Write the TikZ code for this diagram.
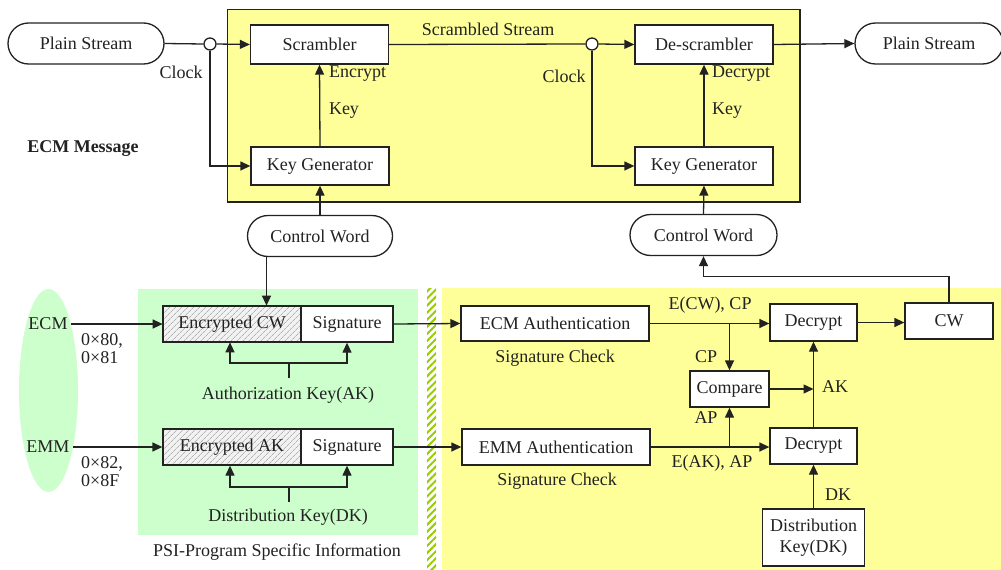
\documentclass[tikz,border=0pt]{standalone}
\usepackage{fontspec}
\setmainfont{Liberation Serif}
\usetikzlibrary{arrows.meta,shapes.misc,patterns.meta}
\definecolor{paleyellow}{HTML}{FFFF99}
\definecolor{palegreen}{HTML}{CCFFCC}
\definecolor{stripgreen}{HTML}{99CC00}
\definecolor{ink}{HTML}{222222}
\begin{document}
\begin{tikzpicture}[x=1pt,y=-1pt,
  font=\fontsize{18}{20}\selectfont,
  every node/.style={text=ink},
  line/.style={draw=ink,line width=1.3pt},
  arr/.style={line,-{Triangle[length=10pt,width=9pt]}},
  blk/.style={line,fill=white,inner sep=0pt,minimum width=#1},
  blk/.default=138,
  term/.style={line,fill=white,rounded rectangle,inner sep=0pt,minimum width=#1,minimum height=41},
  junction/.style={line,fill=white,circle,inner sep=0pt,minimum size=12},
  hatched/.style={preaction={fill=gray!10},pattern={Lines[angle=45,distance=4pt,line width=0.7pt]},pattern color=gray!60},
  lbl/.style={inner sep=1pt}]
\useasboundingbox (0,0) rectangle (1001,570);

% ---------- background regions ----------
\fill[paleyellow] (227.5,9.5) rectangle (800,202);
\draw[line] (227.5,9.5) rectangle (800,202);
\fill[palegreen] (138,289) rectangle (418,535);
\fill[white] (427,288) rectangle (436,575);
\path[pattern={Lines[angle=45,distance=5pt,line width=2pt]},pattern color=stripgreen] (427,288) rectangle (436,575);
\fill[paleyellow] (442,288) rectangle (1005,575);
\fill[palegreen] (48.5,390.5) ellipse [x radius=29.5,y radius=101.5];

% ---------- scrambling path ----------
\node[term=156] (ps1) at (86,43.5) {Plain Stream};
\node[junction] (j1) at (210,44) {};
\node[blk, minimum height=39] (scr) at (319.5,44.5) {Scrambler};
\node[blk, minimum height=38] (kg1) at (320,166) {Key Generator};
\node[term=145] (cw1) at (320,236) {Control Word};

\node[junction] (j2) at (592,44) {};
\node[blk, minimum height=39] (dscr) at (704,44.5) {De-scrambler};
\node[blk, minimum height=38] (kg2) at (704,166) {Key Generator};
\node[term=147] (cw2) at (703.5,235) {Control Word};
\node[term=148] (ps2) at (929,43.5) {Plain Stream};

\node[lbl] at (488,29) {Scrambled Stream};
\node[lbl] at (181,72) {Clock};
\node[lbl] at (564,76) {Clock};
\node[lbl,anchor=west] at (328,74) {Encrypt};
\node[lbl,anchor=west] at (711,74) {Decrypt};
\node[lbl] at (344,111) {Key};
\node[lbl] at (727,111) {Key};
\node[lbl,font=\fontsize{18}{20}\selectfont\bfseries] at (83,149) {ECM Message};

\draw[line] (ps1.east) -- (j1.west);
\draw[arr] (j1.east) -- (scr.west);
\draw[arr] (j1.south) |- (kg1.west);
\draw[arr] (kg1.north) -- (scr.south);
\draw[line] (scr.east) -- (j2.west);
\draw[arr] (j2.east) -- (dscr.west);
\draw[arr] (j2.south) |- (kg2.west);
\draw[arr] (kg2.north) -- (dscr.south);
\draw[arr] (dscr.east) -- (ps2.west);
\draw[arr] (cw1.north) -- (kg1.south);
\draw[arr] (cw2.north) -- (kg2.south);

% ---------- PSI packets ----------
\node at (48,324) {ECM};
\node at (48,447) {EMM};
\node[lbl,anchor=west,align=left,font=\fontsize{18}{18}\selectfont] at (80,349) {0×80,\\0×81};
\node[lbl,anchor=west,align=left,font=\fontsize{18}{18}\selectfont] at (80,472) {0×82,\\0×8F};

\node[blk=138, minimum height=36, hatched] (enc1) at (232,324) {Encrypted CW};
\node[blk=92, minimum height=36] (sig1) at (347,324) {Signature};
\node[blk=138, minimum height=36, hatched] (enc2) at (232,447) {Encrypted AK};
\node[blk=92, minimum height=36] (sig2) at (347,447) {Signature};

\coordinate (ecmsrc) at (71,324);
\coordinate (emmsrc) at (73,447);
\draw[arr] (ecmsrc) -- (enc1.west);
\draw[arr] (emmsrc) -- (enc2.west);
\draw[arr] ([xshift=-53.5]cw1.south) -- ([xshift=34.5]enc1.north);

\node[lbl] (akl) at (288,395) {Authorization Key(AK)};
\coordinate (aks) at (289,378);
\coordinate (akj) at (289,363);
\draw[line] (aks) -- (akj);
\draw[arr] (akj) -| ([xshift=-2]enc1.south);
\draw[arr] (akj) -| (sig1.south);

\node[lbl] (dkl) at (288,517) {Distribution Key(DK)};
\coordinate (dks) at (289,502);
\coordinate (dkj) at (289,487);
\draw[line] (dks) -- (dkj);
\draw[arr] (dkj) -| ([xshift=-2]enc2.south);
\draw[arr] (dkj) -| (sig2.south);

\node[lbl] at (277,552) {PSI-Program Specific Information};

% ---------- receiver side ----------
\node[blk=188, minimum height=35] (ecma) at (555,323.5) {ECM Authentication};
\node[blk=188, minimum height=36] (emma) at (556,447) {EMM Authentication};
\node[lbl] at (555,358) {Signature Check};
\node[lbl] at (557,481) {Signature Check};
\node[blk=87, minimum height=37] (dec1) at (813.5,322.5) {Decrypt};
\node[blk=88, minimum height=36] (cw) at (949,321) {CW};
\node[blk=79, minimum height=36] (cmp) at (729.5,389) {Compare};
\node[blk=87, minimum height=36] (dec2) at (813.5,446) {Decrypt};
\node[blk=102, minimum height=57, align=center, font=\fontsize{18}{21}\selectfont] (dk) at (813.5,537.5) {Distribution\\Key(DK)};

\draw[arr] (sig1.east) -- (ecma.west);
\draw[arr] (sig2.east) -- (emma.west);
\draw[arr] (ecma.east) -- (ecma.east -| dec1.west);
\draw[arr] (emma.east) -- (emma.east -| dec2.west);
\draw[arr] (ecma.east -| cmp.north) -- (cmp.north);
\draw[arr] (emma.east -| cmp.south) -- (cmp.south);
\draw[arr] (dec2.north) -- (dec1.south);
\draw[arr] (cmp.east) -- (cmp.east -| dec2.north);
\draw[arr] (dk.north) -- (dec2.south);
\draw[arr] (dec1.east) -- (dec1.east -| cw.west);
\draw[arr] (cw.north) -- ++(0,-26) -| (cw2.south);

\node[lbl] at (710,305) {E(CW), CP};
\node[lbl] at (706,357) {CP};
\node[lbl] at (706,418) {AP};
\node[lbl] at (712,463) {E(AK), AP};
\node[lbl] at (835,387) {AK};
\node[lbl] at (838,495) {DK};
\end{tikzpicture}
\end{document}
